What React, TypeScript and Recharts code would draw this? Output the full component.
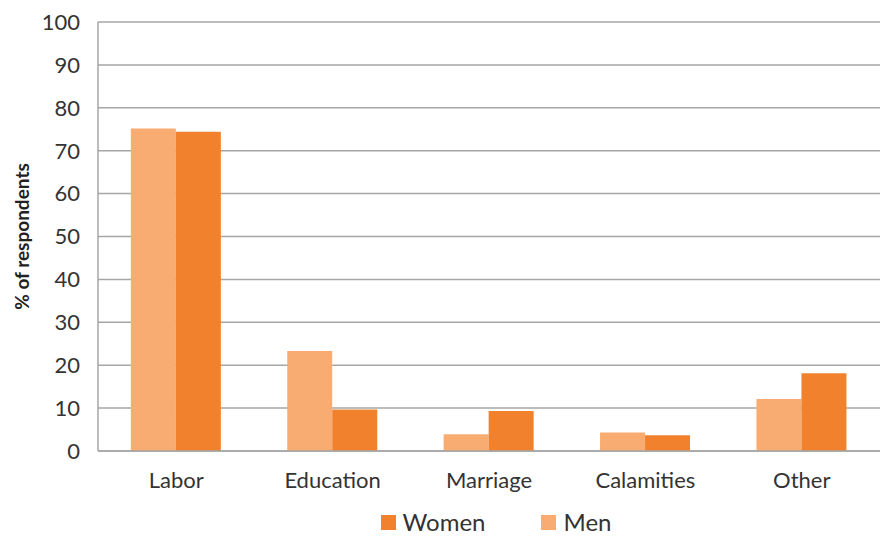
import React from 'react';
import { BarChart, Bar, XAxis, YAxis, CartesianGrid, Legend } from 'recharts';

const categories = ['Labor', 'Education', 'Marriage', 'Calamities', 'Other'];
const men = [75.2, 23.3, 3.9, 4.3, 12.1];
const women = [74.4, 9.7, 9.3, 3.7, 18.1];
const yTicks = [0, 10, 20, 30, 40, 50, 60, 70, 80, 90, 100];

const LIGHT = '#F8AC72';
const DARK = '#F1812C';
const FONT = 'Lato, "Open Sans", sans-serif';

const data = categories.map((name, i) => ({ name, Men: men[i], Women: women[i] }));

// legend shows Women first, then Men
const legendItems = [
  { label: 'Women', color: DARK },
  { label: 'Men', color: LIGHT },
];

function LegendContent() {
  return (
    <div style={{ display: 'flex', justifyContent: 'center', gap: 56, paddingTop: 12, paddingLeft: 112, fontFamily: FONT, fontSize: 24, color: '#333', lineHeight: '28px' }}>
      {legendItems.map((it) => (
        <div key={it.label} style={{ display: 'flex', alignItems: 'center', gap: 7 }}>
          <span style={{ display: 'inline-block', width: 15, height: 15, background: it.color }} />
          <span>{it.label}</span>
        </div>
      ))}
    </div>
  );
}

export default function App() {
  return (
    <div style={{ position: 'absolute', left: 0, top: 0, width: 882, height: 536, background: '#fff', overflow: 'hidden' }}>
      <BarChart
        width={882}
        height={536}
        data={data}
        margin={{ top: 22, right: 2, left: 0, bottom: 0 }}
        barCategoryGap="21%"
        barGap={0}
      >
        <CartesianGrid vertical={false} stroke="#A6A6A6" strokeWidth={1.5} />
        <XAxis
          dataKey="name"
          tickLine={false}
          tickSize={0}
          tickMargin={21}
          height={45}
          axisLine={{ stroke: '#A6A6A6', strokeWidth: 1.5 }}
          tick={{ fontSize: 22, fill: '#333', fontFamily: FONT }}
        />
        <YAxis
          domain={[0, 100]}
          ticks={yTicks}
          interval={0}
          width={98}
          tickLine={false}
          tickSize={0}
          tickMargin={18}
          axisLine={{ stroke: '#A6A6A6', strokeWidth: 1.5 }}
          tick={{ fontSize: 22, fill: '#333', fontFamily: FONT }}
          label={{
            value: '% of respondents',
            angle: -90,
            position: 'insideLeft',
            offset: 22,
            style: { textAnchor: 'middle', fontSize: 19, fontWeight: 700, fill: '#222', fontFamily: FONT },
          }}
        />
        <Legend verticalAlign="bottom" height={40} content={<LegendContent />} />
        <Bar dataKey="Men" fill={LIGHT} isAnimationActive={false} />
        <Bar dataKey="Women" fill={DARK} isAnimationActive={false} />
      </BarChart>
    </div>
  );
}
